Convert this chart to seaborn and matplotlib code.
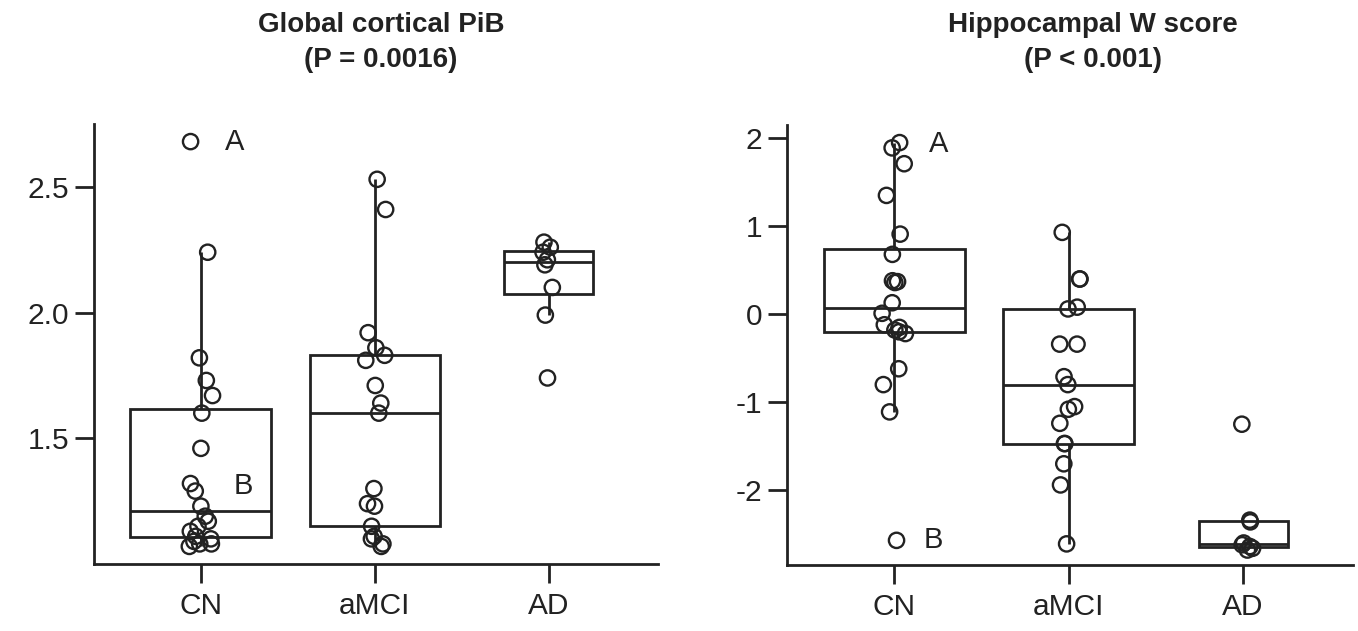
import numpy as np
import pandas as pd
import matplotlib
matplotlib.use("Agg")
import matplotlib.pyplot as plt
import seaborn as sns

# ---------------- data ----------------
groups = ["CN", "aMCI", "AD"]

pib_cn = [2.68, 2.24, 1.82, 1.73, 1.67, 1.60, 1.46, 1.32, 1.29, 1.23,
          1.19, 1.17, 1.15, 1.13, 1.11, 1.10, 1.09, 1.08, 1.08, 1.07]
pib_amci = [2.53, 2.41, 1.92, 1.86, 1.83, 1.81, 1.71, 1.64, 1.60, 1.30,
            1.24, 1.23, 1.15, 1.11, 1.10, 1.08, 1.07]
pib_ad = [2.28, 2.26, 2.24, 2.21, 2.19, 2.10, 1.99, 1.74]

w_cn = [1.95, 1.89, 1.71, 1.35, 0.91, 0.68, 0.38, 0.37, 0.36, 0.13,
        0.01, -0.12, -0.15, -0.18, -0.20, -0.22, -0.62, -0.80, -1.11, -2.57]
w_amci = [0.93, 0.40, 0.40, 0.08, 0.06, -0.34, -0.34, -0.71, -0.80, -1.05,
          -1.08, -1.24, -1.47, -1.47, -1.70, -1.94, -2.61]
w_ad = [-1.25, -2.34, -2.36, -2.60, -2.62, -2.64, -2.66, -2.68]

pib_title = ["Global cortical PiB", "(P = 0.0016)"]
w_title = ["Hippocampal W score", "(P < 0.001)"]

pib_ticks = [1.5, 2.0, 2.5]
pib_ticklabels = ["1.5", "2.0", "2.5"]
w_ticks = [-2, -1, 0, 1, 2]
w_ticklabels = ["-2", "-1", "0", "1", "2"]

pib_marks = [("A", 0.14, 2.68), ("B", 0.19, 1.31)]
w_marks = [("A", 0.20, 1.93), ("B", 0.17, -2.57)]

# ---------------- style ----------------
sns.set_theme(style="ticks")
plt.rcParams["font.family"] = ["Liberation Sans", "DejaVu Sans"]
ink = "#222222"
box_widths = [0.81, 0.75, 0.51]

W, H = 1358, 631
fig = plt.figure(figsize=(W / 100, H / 100), dpi=100)
ax1 = fig.add_axes([94 / W, 1 - 564 / H, 564 / W, 440 / H])
ax2 = fig.add_axes([787 / W, 1 - 565 / H, 566 / W, 440 / H])

np.random.seed(7)


def panel(ax, series, ylim, ticks, ticklabels, marks):
    df = pd.DataFrame({
        "group": sum([[g] * len(v) for g, v in zip(groups, series)], []),
        "value": sum([list(v) for v in series], []),
    })
    for g, w in zip(groups, box_widths):
        sns.boxplot(data=df[df["group"] == g], x="group", y="value",
                    order=groups, width=w, whis=1.5, showfliers=False,
                    showcaps=False, color="white", linecolor=ink,
                    linewidth=2.0, ax=ax)
    n0 = len(ax.collections)
    sns.stripplot(data=df, x="group", y="value", order=groups,
                  jitter=0.07, size=11, color="white", ax=ax)
    for c in ax.collections[n0:]:
        c.set_facecolor("none")
        c.set_edgecolor(ink)
        c.set_linewidth(1.7)
        c.set_zorder(4)
    for lab, x, y in marks:
        ax.text(x, y, lab, ha="left", va="center", fontsize=21, color=ink)
    ax.set_xlim(-0.615, 2.63)
    ax.set_ylim(*ylim)
    ax.set_yticks(ticks)
    ax.set_yticklabels(ticklabels)
    ax.set_xlabel("")
    ax.set_ylabel("")
    sns.despine(ax=ax)
    for s in ("left", "bottom"):
        ax.spines[s].set_linewidth(2.0)
        ax.spines[s].set_color(ink)
    ax.tick_params(axis="both", length=14, width=2.0, color=ink,
                   labelcolor=ink, labelsize=21.5)
    ax.tick_params(axis="y", pad=4)
    ax.tick_params(axis="x", pad=6)


panel(ax1, [pib_cn, pib_amci, pib_ad], (1.0, 2.75), pib_ticks, pib_ticklabels, pib_marks)
panel(ax2, [w_cn, w_amci, w_ad], (-2.85, 2.15), w_ticks, w_ticklabels, w_marks)

for title, xc in ((pib_title, 381), (w_title, 1093)):
    fig.text(xc / W, 1 - 25 / H, title[0], ha="center", va="center",
             fontsize=20, fontweight="bold", color=ink)
    fig.text(xc / W, 1 - 60 / H, title[1], ha="center", va="center",
             fontsize=20, fontweight="bold", color=ink)

fig.savefig("out.png", dpi=100, facecolor="white")
